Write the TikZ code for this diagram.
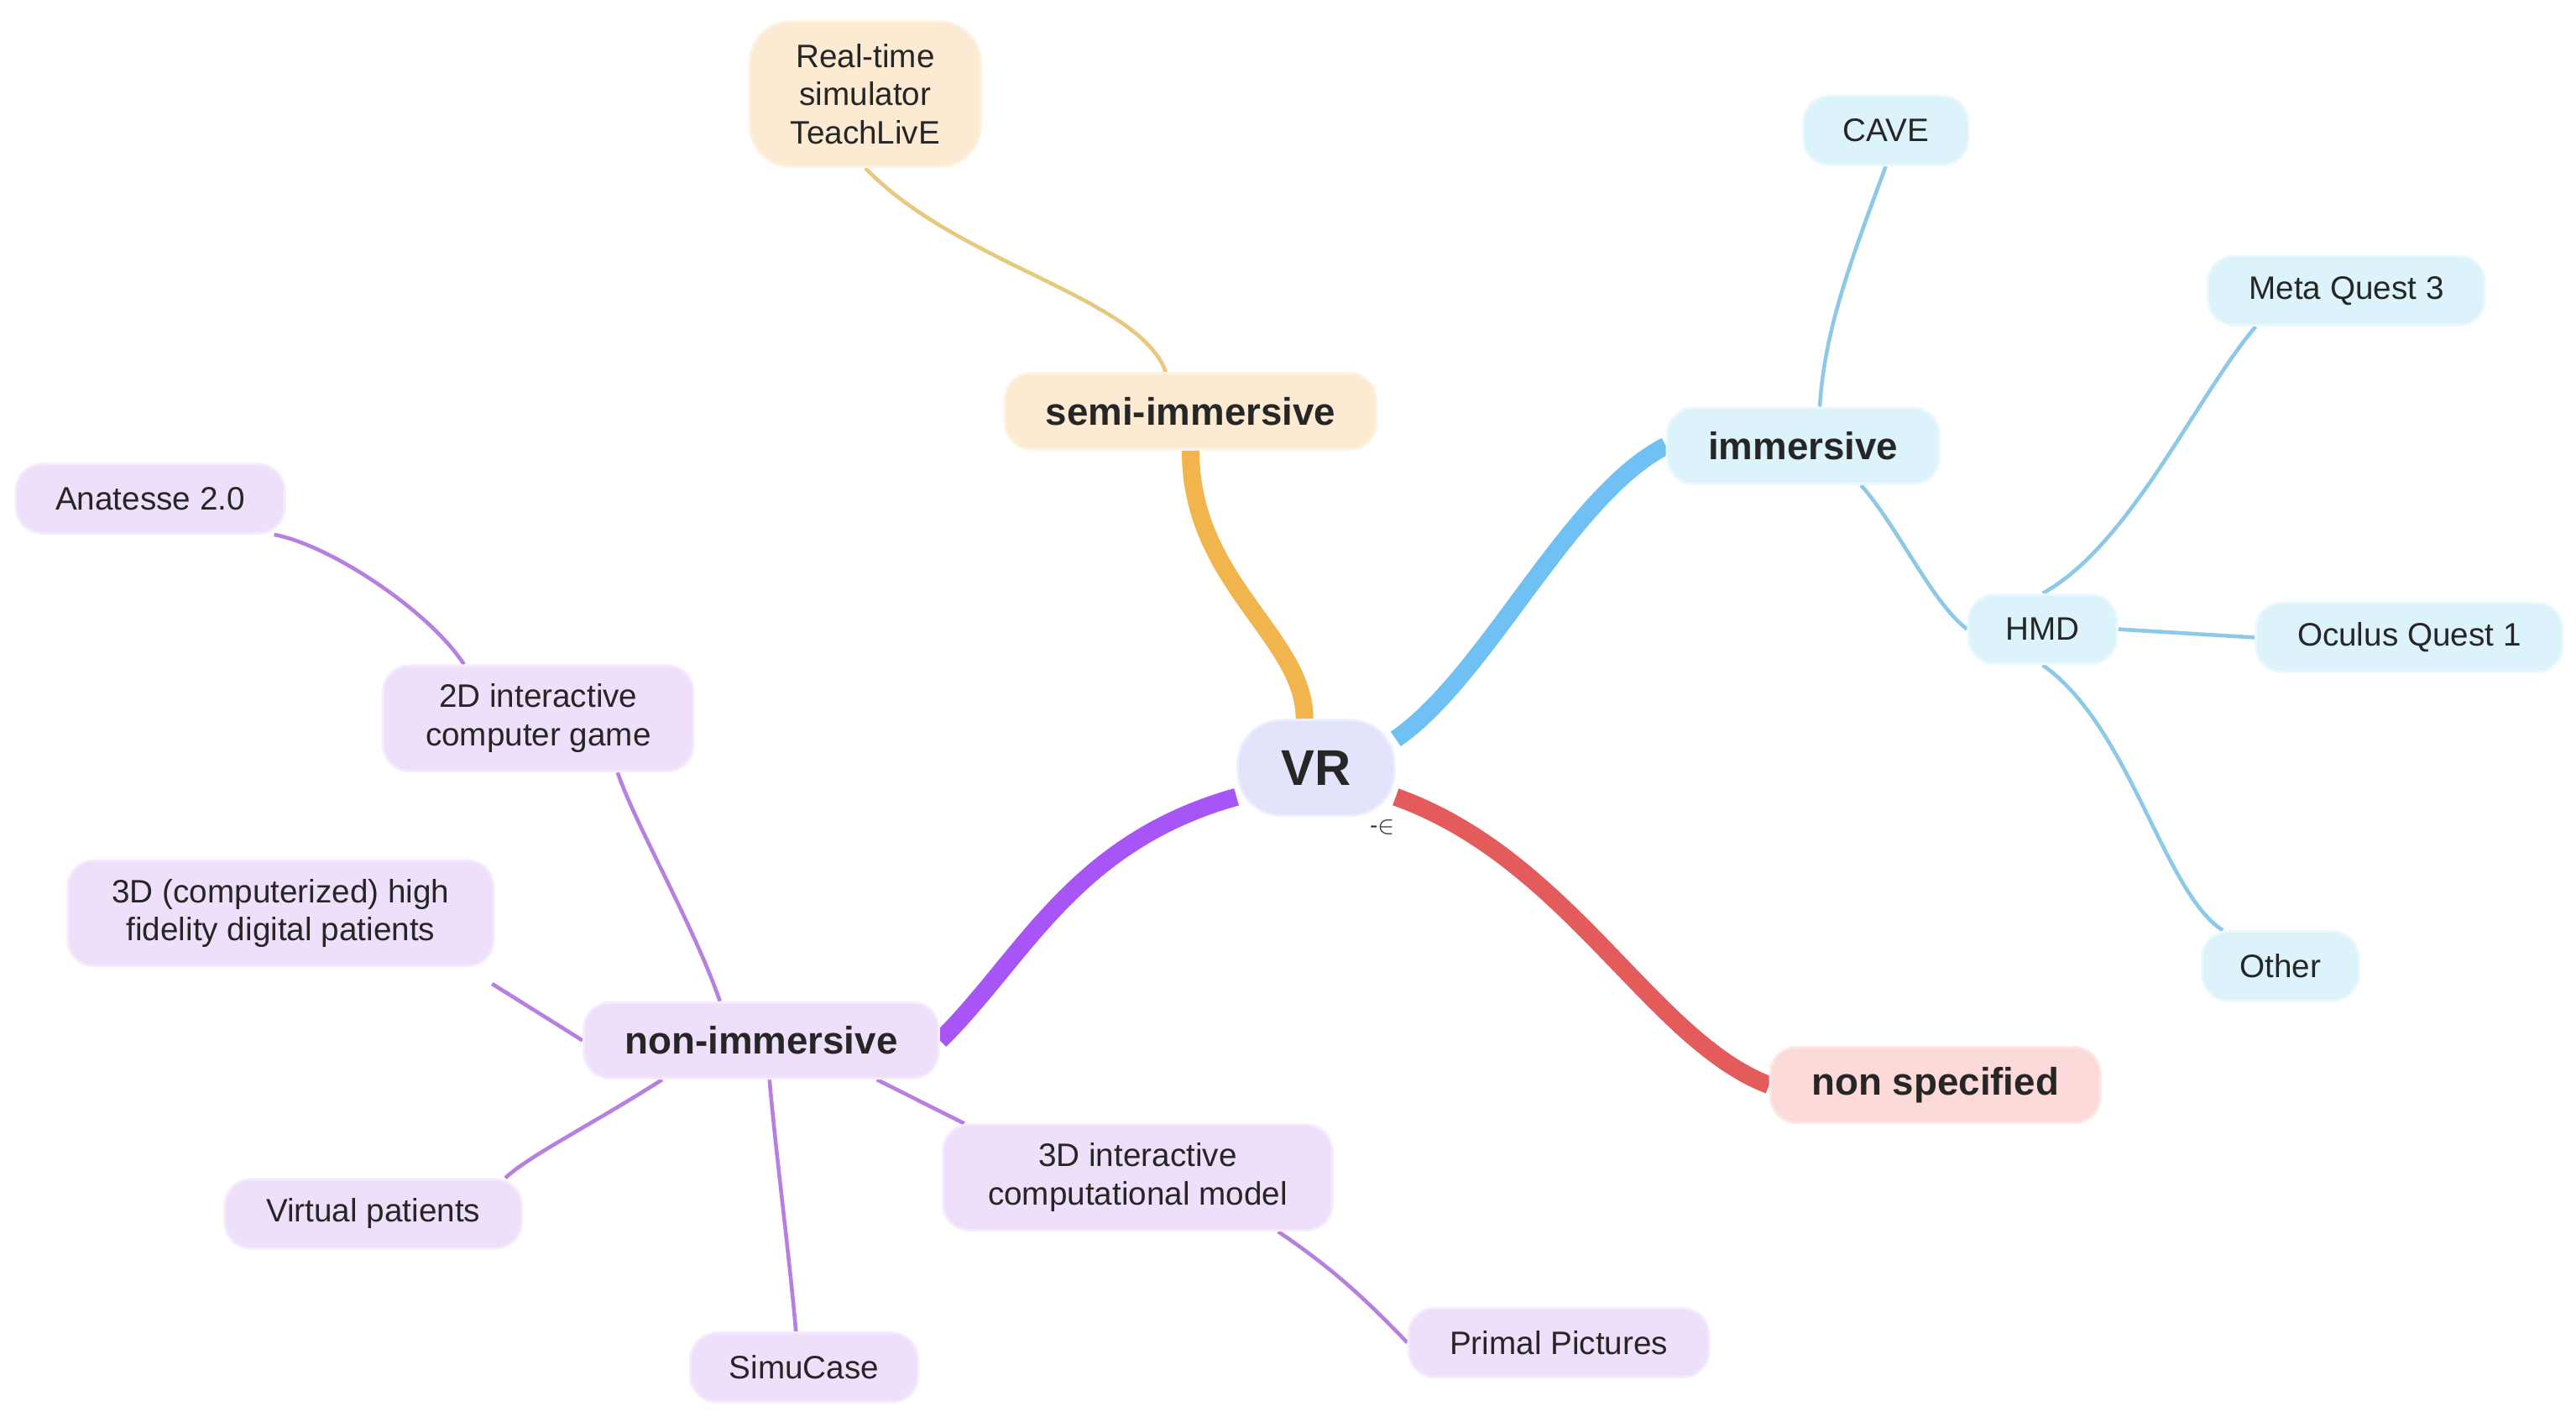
\documentclass[tikz,border=0pt]{standalone}
\usepackage{fontspec}
\setmainfont{Liberation Sans}
\begin{document}
\begin{tikzpicture}[x=0.01967cm,y=-0.01967cm,
 box/.style={rounded corners=9pt,draw=#1!60!white,line width=0.8pt,align=center,font=\fontsize{11}{13}\selectfont,inner sep=0pt,text=black!85},
 main/.style={font=\fontsize{13}{15}\selectfont\bfseries},
 thin/.style={line width=1.3pt,#1},
 thick/.style={line width=6pt,#1}]
\definecolor{obg}{HTML}{FCEBD2}\definecolor{bbg}{HTML}{DDF3FB}\definecolor{rbg}{HTML}{FBDAD9}\definecolor{pbg}{HTML}{EEE0FA}\definecolor{vbg}{HTML}{E2E4FB}
\definecolor{oth}{HTML}{F2B54E}\definecolor{bth}{HTML}{6EC1F2}\definecolor{rth}{HTML}{E35B5B}\definecolor{pth}{HTML}{A855F7}
\definecolor{otn}{HTML}{E8C77E}\definecolor{btn}{HTML}{8CC8E8}\definecolor{ptn}{HTML}{B77FE0}
\useasboundingbox (0,0) rectangle (1560,858);
% connectors first
\coordinate (c0) at (0,0);
\node[box=obg,fill=obg,main,minimum width=225\pgflinewidth,text width=0pt] (dummy) at (-500,-500) {};
\begin{scope}[on background layer/.style={}]
\end{scope}
% nodes
\node[box=vbg,fill=vbg,minimum width=95*0.01967cm,minimum height=58*0.01967cm,font=\fontsize{17}{19}\selectfont\bfseries,rounded corners=15pt] (vr) at (797,465) {VR};
\node[box=obg,fill=obg,main,minimum width=225*0.01967cm,minimum height=46*0.01967cm] (semi) at (721,249) {semi-immersive};
\node[box=obg,fill=obg,minimum width=140*0.01967cm,minimum height=88*0.01967cm,rounded corners=14pt] (rt) at (524,57) {Real-time\\simulator\\TeachLivE};
\node[box=bbg,fill=bbg,main,minimum width=165*0.01967cm,minimum height=46*0.01967cm] (imm) at (1092,270) {immersive};
\node[box=bbg,fill=bbg,minimum width=100*0.01967cm,minimum height=42*0.01967cm] (cave) at (1142,79) {CAVE};
\node[box=bbg,fill=bbg,minimum width=90*0.01967cm,minimum height=42*0.01967cm] (hmd) at (1237,381) {HMD};
\node[box=bbg,fill=bbg,minimum width=168*0.01967cm,minimum height=42*0.01967cm] (meta) at (1421,176) {Meta Quest 3};
\node[box=bbg,fill=bbg,minimum width=186*0.01967cm,minimum height=42*0.01967cm] (ocu) at (1459,386) {Oculus Quest 1};
\node[box=bbg,fill=bbg,minimum width=95*0.01967cm,minimum height=42*0.01967cm] (oth) at (1381,585) {Other};
\node[box=rbg,fill=rbg,main,minimum width=200*0.01967cm,minimum height=46*0.01967cm] (ns) at (1172,657) {non specified};
\node[box=pbg,fill=pbg,main,minimum width=215*0.01967cm,minimum height=46*0.01967cm] (ni) at (461,630) {non-immersive};
\node[box=pbg,fill=pbg,minimum width=188*0.01967cm,minimum height=64*0.01967cm] (twod) at (326,435) {2D interactive\\computer game};
\node[box=pbg,fill=pbg,minimum width=163*0.01967cm,minimum height=42*0.01967cm] (ana) at (91,302) {Anatesse 2.0};
\node[box=pbg,fill=pbg,minimum width=258*0.01967cm,minimum height=64*0.01967cm] (hf) at (170,553) {3D (computerized) high\\fidelity digital patients};
\node[box=pbg,fill=pbg,minimum width=180*0.01967cm,minimum height=42*0.01967cm] (vp) at (226,735) {Virtual patients};
\node[box=pbg,fill=pbg,minimum width=138*0.01967cm,minimum height=42*0.01967cm] (sc) at (487,828) {SimuCase};
\node[box=pbg,fill=pbg,minimum width=236*0.01967cm,minimum height=64*0.01967cm] (cm) at (689,713) {3D interactive\\computational model};
\node[box=pbg,fill=pbg,minimum width=182*0.01967cm,minimum height=42*0.01967cm] (pp) at (944,813) {Primal Pictures};
\node[font=\fontsize{8}{9}\selectfont,text=black!80] (eps) at (837,501) {-$\in$};
% connectors drawn behind using pgf layers
\pgfdeclarelayer{bg}\pgfsetlayers{bg,main}
\begin{pgfonlayer}{bg}
\draw[thick=oth] (semi.south) .. controls +(0,80) and +(0,-50) .. ([xshift=-7*0.01967cm]vr.north);
\draw[thick=bth] (vr.20) .. controls (900,410) and (950,300) .. (imm.west);
\draw[thick=rth] (vr.-20) .. controls (950,520) and (1000,630) .. (ns.west);
\draw[thick=pth] (vr.200) .. controls (650,510) and (620,580) .. (ni.east);
\draw[thin=otn] (rt.south) .. controls (580,160) and (690,180) .. ([xshift=-15*0.01967cm]semi.north);
\draw[thin=btn] (cave.south) .. controls (1120,160) and (1105,200) .. ([xshift=10*0.01967cm]imm.north);
\draw[thin=btn] ([xshift=35*0.01967cm]imm.south) .. controls (1150,320) and (1170,365) .. (hmd.west);
\draw[thin=btn] (hmd.north) .. controls (1290,330) and (1330,240) .. ([xshift=-55*0.01967cm]meta.south);
\draw[thin=btn] (hmd.east) -- (ocu.west);
\draw[thin=btn] (hmd.south) .. controls (1290,440) and (1310,540) .. ([xshift=-35*0.01967cm]oth.north);
\draw[thin=ptn] ([xshift=-25*0.01967cm]ni.north) .. controls (420,560) and (385,500) .. ([xshift=48*0.01967cm]twod.south);
\draw[thin=ptn] ([xshift=75*0.01967cm]ana.south) .. controls (200,330) and (260,370) .. ([xshift=-45*0.01967cm]twod.north);
\draw[thin=ptn] ([xshift=128*0.01967cm,yshift=-10*0.01967cm]hf.south) -- (ni.west);
\draw[thin=ptn] ([xshift=-60*0.01967cm]ni.south) .. controls (360,680) and (320,700) .. ([xshift=80*0.01967cm]vp.north);
\draw[thin=ptn] ([xshift=5*0.01967cm]ni.south) .. controls (470,700) and (478,760) .. ([xshift=-5*0.01967cm]sc.north);
\draw[thin=ptn] ([xshift=70*0.01967cm]ni.south) -- ([xshift=-105*0.01967cm]cm.north);
\draw[thin=ptn] ([xshift=85*0.01967cm]cm.south) .. controls (810,770) and (830,790) .. (pp.west);
\end{pgfonlayer}
\end{tikzpicture}
\end{document}
